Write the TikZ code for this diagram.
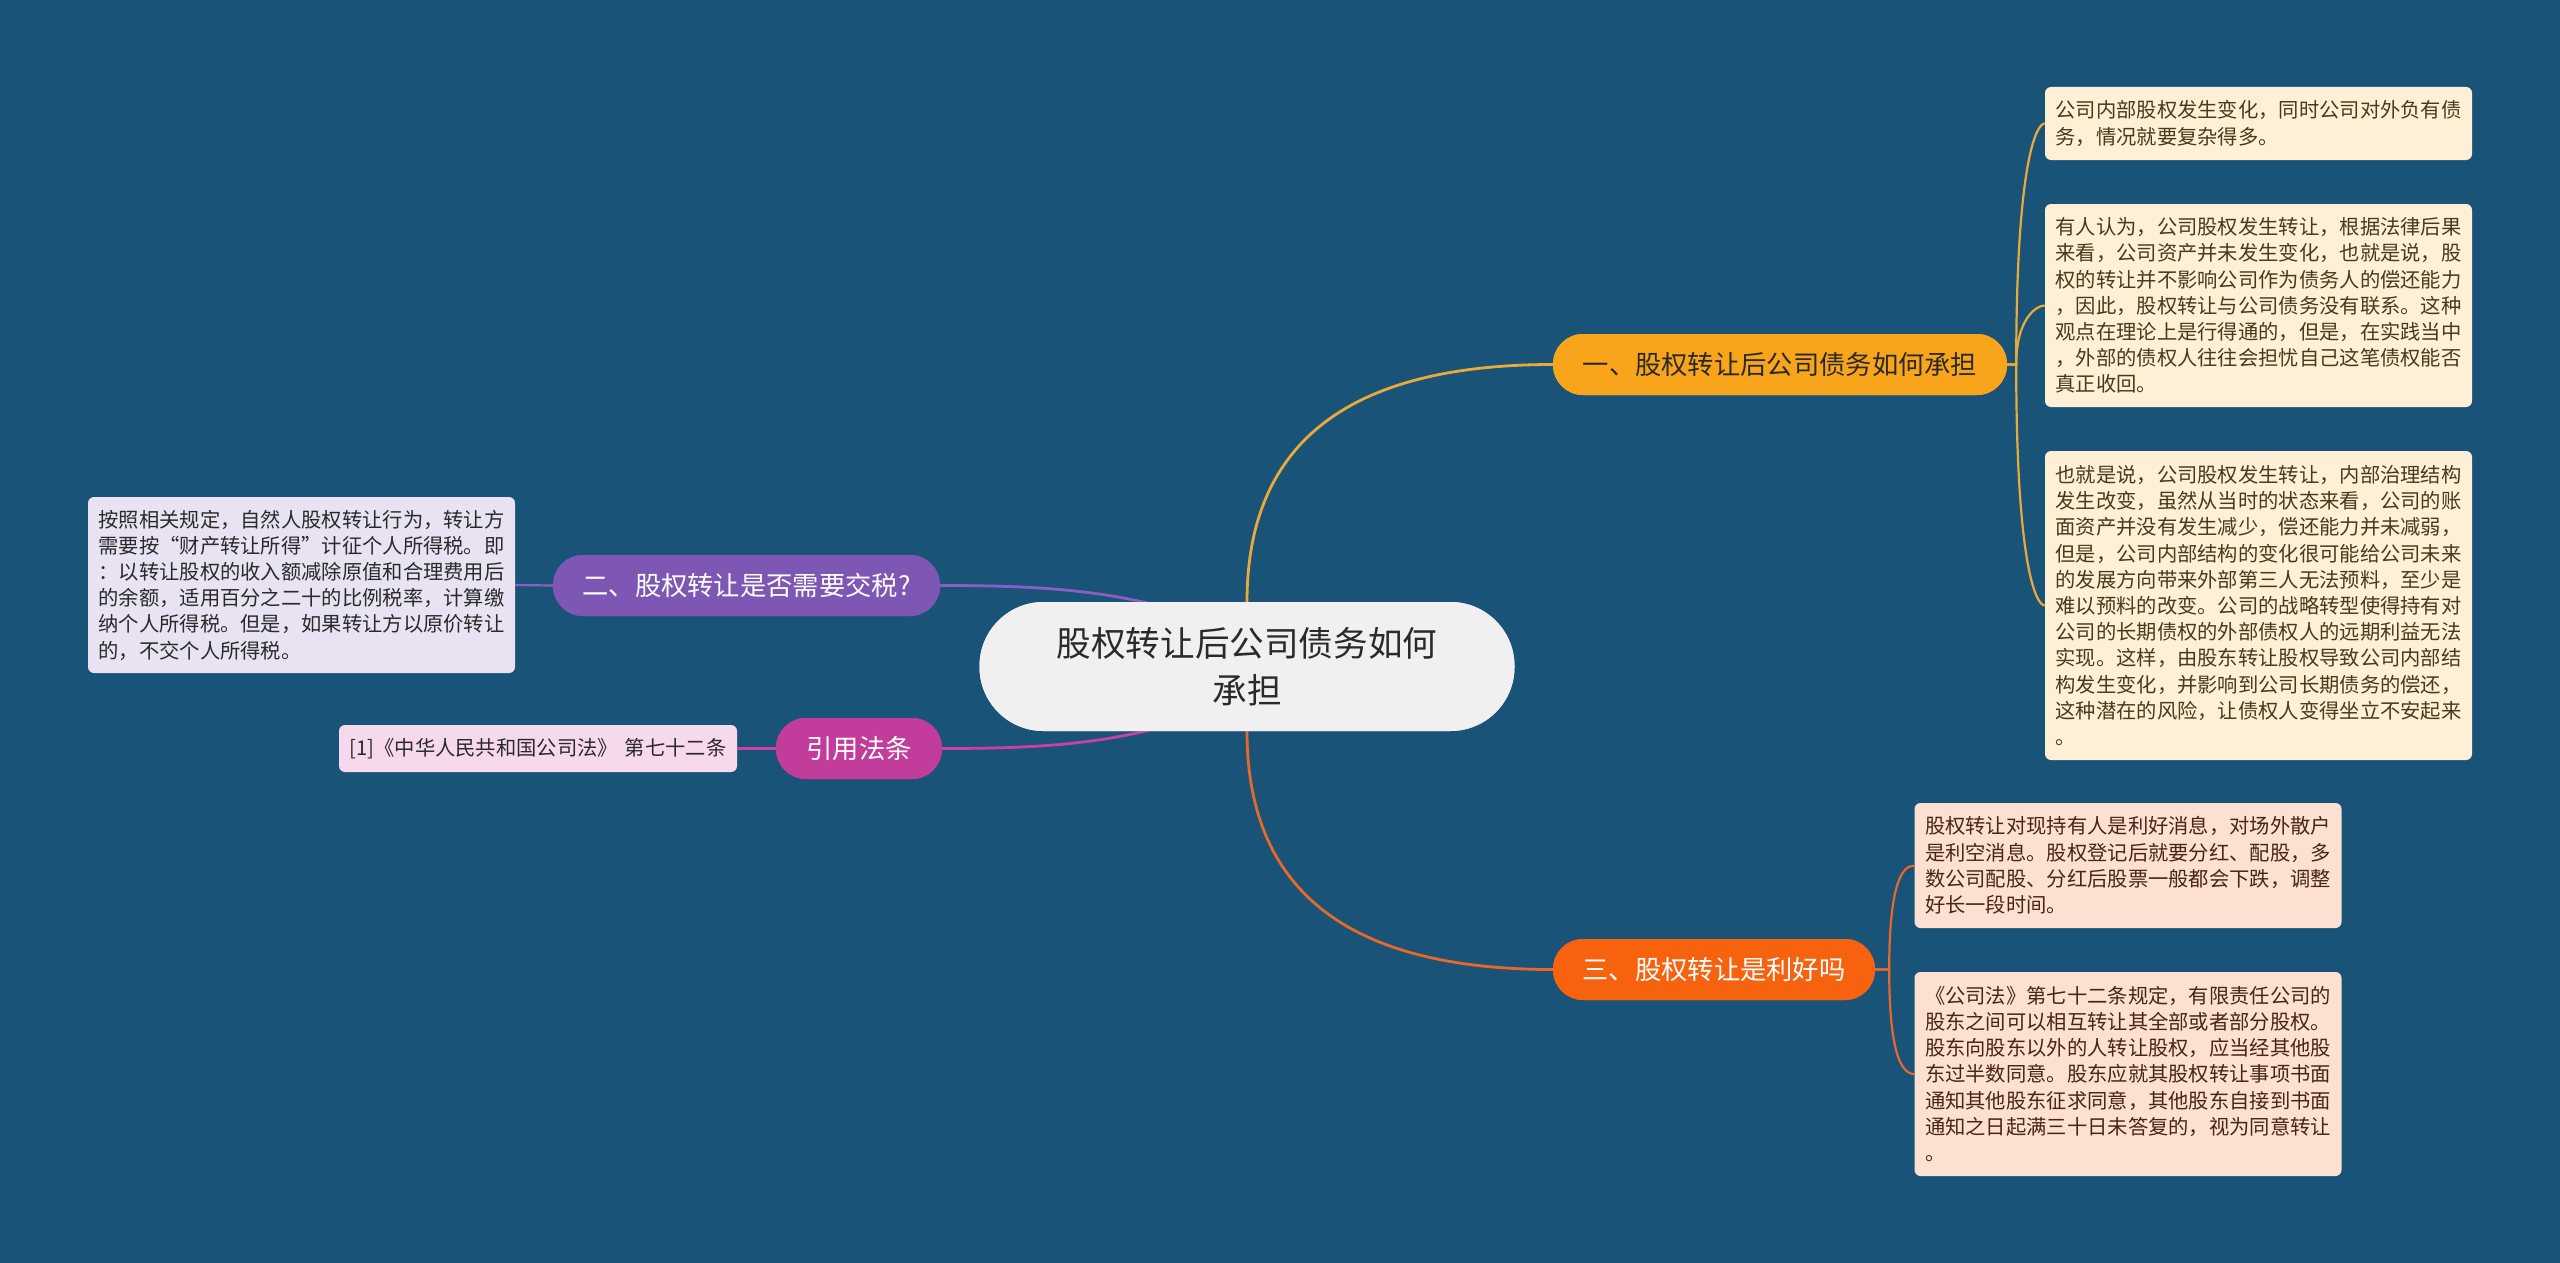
\documentclass[tikz,border=0pt]{standalone}
\usepackage{fontspec}
\setmainfont{Noto Sans CJK SC}
\usetikzlibrary{calc}
\definecolor{bg}{HTML}{1A5378}
\definecolor{rootfill}{HTML}{F0F0F0}
\definecolor{yelfill}{HTML}{F9A51C}
\definecolor{purfill}{HTML}{7E57B4}
\definecolor{magfill}{HTML}{C23C9C}
\definecolor{orafill}{HTML}{F7620F}
\definecolor{yelline}{HTML}{EAAA3A}
\definecolor{purline}{HTML}{8B5EC2}
\definecolor{magline}{HTML}{C941A2}
\definecolor{oraline}{HTML}{E6692A}
\definecolor{yelleaf}{HTML}{FDF0D6}
\definecolor{oraleaf}{HTML}{FCE0D1}
\definecolor{purleaf}{HTML}{E8E2F3}
\definecolor{magleaf}{HTML}{F7D9EE}
\definecolor{yeltext}{HTML}{4A3A1C}
\definecolor{oratext}{HTML}{4A2418}
\definecolor{dtext}{HTML}{2A2A2A}
\tikzset{
  rootbox/.style={draw=none, fill=rootfill, rounded corners=64pt, minimum width=535pt, minimum height=129pt,
     text=dtext, align=center, font=\fontsize{34.6}{46.7}\selectfont, inner sep=0pt},
  branchbox/.style={draw=none, rounded corners=30pt, minimum height=61pt, inner sep=0pt,
     font=\fontsize{26.3}{30}\selectfont},
  leafbox/.style={draw=none, rounded corners=6pt, inner xsep=10.5pt, inner ysep=0pt, text width=406pt,
     align=left, font=\fontsize{20.3}{26.2}\selectfont},
  mainline/.style={line width=2.8pt},
  leafline/.style={line width=2.2pt},
}
\begin{document}
\begin{tikzpicture}[x=1pt,y=-1pt]
\useasboundingbox (0,0) rectangle (2560,1263);
\fill[bg] (0,0) rectangle (2560,1263);

% nodes (positions)
\node[rootbox] (root) at (1247,666.5) {股权转让后公司债务如何\\承担};
\node[branchbox, fill=yelfill, text=dtext, minimum width=454pt] (b1) at (1780,364.5) {一、股权转让后公司债务如何承担};
\node[branchbox, fill=purfill, text=white, minimum width=387pt] (b2) at (746.5,585.5) {二、股权转让是否需要交税?};
\node[branchbox, fill=magfill, text=white, minimum width=166pt] (b3) at (859,748.5) {引用法条};
\node[branchbox, fill=orafill, text=white, minimum width=322pt] (b4) at (1714,969.5) {三、股权转让是利好吗};

% connectors root -> branches (drawn behind root)
\draw[mainline, yelline] (root.north) .. controls (1247,420) and (1380,364.5) .. (b1.west);
\draw[mainline, oraline] (root.south) .. controls (1247,914) and (1380,969.5) .. (b4.west);
\draw[mainline, purline] (b2.east) .. controls (1060,585.5) and (1130,592) .. ($(root.center)+(-20,-40)$);
\draw[mainline, magline] (b3.east) .. controls (1060,748.5) and (1130,742) .. ($(root.center)+(-20,40)$);
% redraw root and branches on top
\node[rootbox] at (root.center) {股权转让后公司债务如何\\承担};
\node[branchbox, fill=yelfill, text=dtext, minimum width=454pt] at (b1.center) {一、股权转让后公司债务如何承担};
\node[branchbox, fill=orafill, text=white, minimum width=322pt] at (b4.center) {三、股权转让是利好吗};
\node[branchbox, fill=purfill, text=white, minimum width=387pt] at (b2.center) {二、股权转让是否需要交税?};
\node[branchbox, fill=magfill, text=white, minimum width=166pt] at (b3.center) {引用法条};

% leaves
\node[leafbox, fill=yelleaf, text=yeltext, minimum height=73pt] (l1) at (2258.5,123.5)
 {公司内部股权发生变化，同时公司对外负有债\\务，情况就要复杂得多。};
\node[leafbox, fill=yelleaf, text=yeltext, minimum height=203pt] (l2) at (2258.5,305.5)
 {有人认为，公司股权发生转让，根据法律后果\\来看，公司资产并未发生变化，也就是说，股\\权的转让并不影响公司作为债务人的偿还能力\\，因此，股权转让与公司债务没有联系。这种\\观点在理论上是行得通的，但是，在实践当中\\，外部的债权人往往会担忧自己这笔债权能否\\真正收回。};
\node[leafbox, fill=yelleaf, text=yeltext, minimum height=309pt] (l3) at (2258.5,605.5)
 {也就是说，公司股权发生转让，内部治理结构\\发生改变，虽然从当时的状态来看，公司的账\\面资产并没有发生减少，偿还能力并未减弱，\\但是，公司内部结构的变化很可能给公司未来\\的发展方向带来外部第三人无法预料，至少是\\难以预料的改变。公司的战略转型使得持有对\\公司的长期债权的外部债权人的远期利益无法\\实现。这样，由股东转让股权导致公司内部结\\构发生变化，并影响到公司长期债务的偿还，\\这种潜在的风险，让债权人变得坐立不安起来\\。};
\node[leafbox, fill=oraleaf, text=oratext, minimum height=125pt] (l4) at (2128,865.5)
 {股权转让对现持有人是利好消息，对场外散户\\是利空消息。股权登记后就要分红、配股，多\\数公司配股、分红后股票一般都会下跌，调整\\好长一段时间。};
\node[leafbox, fill=oraleaf, text=oratext, minimum height=204pt] (l5) at (2128,1074)
 {《公司法》第七十二条规定，有限责任公司的\\股东之间可以相互转让其全部或者部分股权。\\股东向股东以外的人转让股权，应当经其他股\\东过半数同意。股东应就其股权转让事项书面\\通知其他股东征求同意，其他股东自接到书面\\通知之日起满三十日未答复的，视为同意转让\\。};
\node[leafbox, fill=purleaf, text=dtext, minimum height=176pt] (l6) at (301.5,585)
 {按照相关规定，自然人股权转让行为，转让方\\需要按“财产转让所得”计征个人所得税。即\\：以转让股权的收入额减除原值和合理费用后\\的余额，适用百分之二十的比例税率，计算缴\\纳个人所得税。但是，如果转让方以原价转让\\的，不交个人所得税。};
\node[leafbox, fill=magleaf, text=dtext, text width=377pt, minimum height=47pt] (l7) at (538,748.5)
 {[1]《中华人民共和国公司法》 第七十二条};

% branch -> leaf connectors
\draw[leafline, yelline] (b1.east) -- ++(9,0) .. controls +(0,-200) and +(-9,0) .. (l1.west);
\draw[leafline, yelline] (b1.east) -- ++(9,0) .. controls +(0,-45) and +(-9,0) .. (l2.west);
\draw[leafline, yelline] (b1.east) -- ++(9,0) .. controls +(0,200) and +(-9,0) .. (l3.west);
\draw[leafline, oraline] (b4.east) -- ++(14,0) .. controls +(0,-80) and +(-14,0) .. (l4.west);
\draw[leafline, oraline] (b4.east) -- ++(14,0) .. controls +(0,80) and +(-14,0) .. (l5.west);
\draw[leafline, purline] (b2.west) -- (l6.east);
\draw[leafline, magline] (b3.west) -- (l7.east);
\end{tikzpicture}
\end{document}
